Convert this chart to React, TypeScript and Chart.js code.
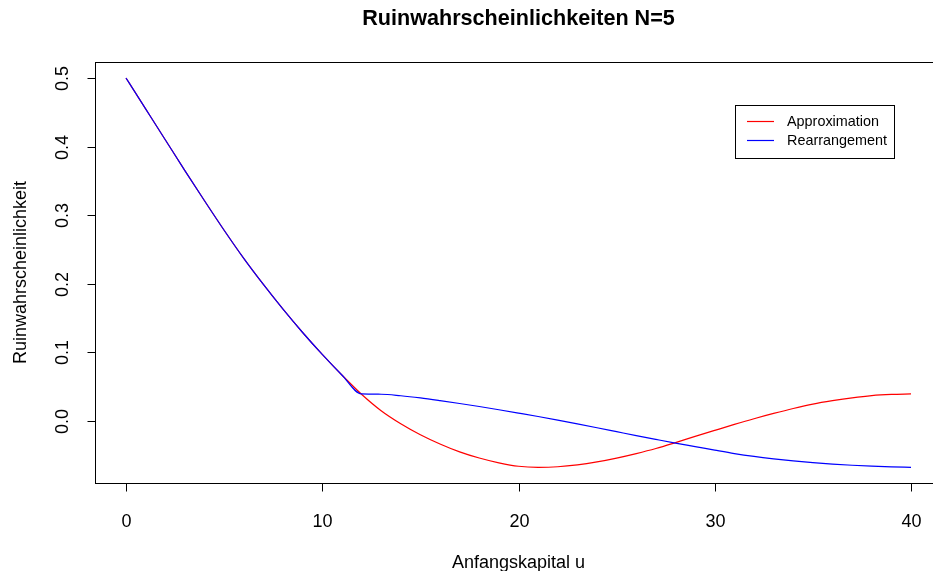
import React, { useEffect, useRef } from "react";
import { Chart, registerables } from "chart.js";

Chart.register(...registerables);

const TITLE = "Ruinwahrscheinlichkeiten N=5";
const X_LABEL = "Anfangskapital u";
const Y_LABEL = "Ruinwahrscheinlichkeit";
const SERIES_NAMES = ["Approximation", "Rearrangement"];

const U = [0, 1, 2, 3, 4, 5, 6, 7, 8, 9, 10, 11, 12, 13, 14, 15, 16, 17, 18, 19, 20,
  21, 22, 23, 24, 25, 26, 27, 28, 29, 30, 31, 32, 33, 34, 35, 36, 37, 38, 39, 40];

const APPROXIMATION = [0.5, 0.455, 0.41, 0.365, 0.321, 0.278, 0.237, 0.199, 0.163, 0.129, 0.097,
  0.067, 0.039, 0.015, -0.004, -0.02, -0.0335, -0.045, -0.054, -0.061, -0.066,
  -0.0675, -0.0667, -0.064, -0.0597, -0.0541, -0.0475, -0.0401, -0.0315, -0.0225, -0.0137,
  -0.005, 0.0033, 0.011, 0.0182, 0.0246, 0.0296, 0.0338, 0.037, 0.0387, 0.0394];

const REARRANGEMENT = [0.5, 0.455, 0.41, 0.365, 0.321, 0.278, 0.237, 0.199, 0.163, 0.129, 0.097,
  0.067, 0.0394, 0.039, 0.0368, 0.0336, 0.0297, 0.0255, 0.0211, 0.0164, 0.0115,
  0.0065, 0.0012, -0.0043, -0.0099, -0.0156, -0.0213, -0.0268, -0.0322, -0.0373, -0.0425,
  -0.0475, -0.0517, -0.0552, -0.0582, -0.0607, -0.0628, -0.0645, -0.0658, -0.0668, -0.0675];

const X_TICKS = [0, 10, 20, 30, 40];
const X_TICK_LABELS = ["0", "10", "20", "30", "40"];
const Y_TICKS = [0, 0.1, 0.2, 0.3, 0.4, 0.5];
const Y_TICK_LABELS = ["0.0", "0.1", "0.2", "0.3", "0.4", "0.5"];

const FONT = "'Liberation Sans', Arial, sans-serif";

const decorPlugin = {
  id: "rDecor",
  afterDraw(chart: any) {
    const ctx = chart.ctx as CanvasRenderingContext2D;
    const area = chart.chartArea;
    const xs = chart.scales.x;
    const ys = chart.scales.y;
    ctx.save();
    ctx.strokeStyle = "#000";
    ctx.fillStyle = "#000";
    ctx.lineWidth = 1;
    // box
    const l = Math.round(area.left) + 0.5;
    const t = Math.round(area.top) + 0.5;
    const r = Math.round(area.right) + 0.5;
    const b = Math.round(area.bottom) + 0.5;
    ctx.strokeRect(l, t, r - l, b - t);
    // x ticks
    ctx.font = `18px ${FONT}`;
    ctx.textAlign = "center";
    ctx.textBaseline = "alphabetic";
    X_TICKS.forEach((v, i) => {
      const px = Math.round(xs.getPixelForValue(v)) + 0.5;
      ctx.beginPath();
      ctx.moveTo(px, b);
      ctx.lineTo(px, b + 8);
      ctx.stroke();
      ctx.fillText(X_TICK_LABELS[i], px, 527);
    });
    // y ticks
    Y_TICKS.forEach((v, i) => {
      const py = Math.round(ys.getPixelForValue(v)) + 0.5;
      ctx.beginPath();
      ctx.moveTo(l, py);
      ctx.lineTo(l - 8, py);
      ctx.stroke();
      ctx.save();
      ctx.translate(68, py);
      ctx.rotate(-Math.PI / 2);
      ctx.textAlign = "center";
      ctx.textBaseline = "alphabetic";
      ctx.fillText(Y_TICK_LABELS[i], 0, 0);
      ctx.restore();
    });
    const cx = (area.left + area.right) / 2;
    const cy = (area.top + area.bottom) / 2;
    // axis labels
    ctx.textAlign = "center";
    ctx.fillText(X_LABEL, cx, 568);
    ctx.save();
    ctx.translate(26, cy);
    ctx.rotate(-Math.PI / 2);
    ctx.fillText(Y_LABEL, 0, 0);
    ctx.restore();
    // title
    ctx.font = `bold 21.6px ${FONT}`;
    ctx.fillText(TITLE, cx, 25);
    // legend
    ctx.strokeRect(735.5, 105.5, 159, 53);
    const colors = ["#FF0000", "#0000FF"];
    const rows = [121.5, 140.5];
    ctx.font = `14.4px ${FONT}`;
    ctx.textAlign = "left";
    ctx.textBaseline = "middle";
    SERIES_NAMES.forEach((name, i) => {
      ctx.strokeStyle = colors[i];
      ctx.lineWidth = 1.2;
      ctx.beginPath();
      ctx.moveTo(747, rows[i]);
      ctx.lineTo(774, rows[i]);
      ctx.stroke();
      ctx.fillStyle = "#000";
      ctx.fillText(name, 787, rows[i] + 0.5);
    });
    ctx.restore();
  },
};

export default function App() {
  const ref = useRef<HTMLCanvasElement | null>(null);
  useEffect(() => {
    document.body.style.margin = "0";
    const canvas = ref.current;
    if (!canvas) return;
    const chart = new Chart(canvas, {
      type: "line",
      data: {
        datasets: [
          {
            label: SERIES_NAMES[1],
            data: U.map((u, i) => ({ x: u, y: REARRANGEMENT[i] })),
            borderColor: "#0000FF",
            borderWidth: 1.2,
            pointRadius: 0,
            fill: false,
            cubicInterpolationMode: "monotone",
          },
          {
            label: SERIES_NAMES[0],
            data: U.map((u, i) => ({ x: u, y: APPROXIMATION[i] })),
            borderColor: "#FF0000",
            borderWidth: 1.2,
            pointRadius: 0,
            fill: false,
            cubicInterpolationMode: "monotone",
          },
        ],
      },
      options: {
        responsive: false,
        animation: false,
        layout: { padding: { left: 94.6, right: 960 - 942.4, top: 62, bottom: 571 - 483 } },
        plugins: { legend: { display: false }, title: { display: false }, tooltip: { enabled: false } },
        scales: {
          x: { type: "linear", min: -1.6, max: 41.6, display: false },
          y: { type: "linear", min: -0.0904, max: 0.5233, display: false },
        },
      },
      plugins: [decorPlugin],
    });
    return () => chart.destroy();
  }, []);
  return (
    <div style={{ position: "fixed", left: 0, top: 0, width: 933, height: 571, overflow: "hidden", background: "#fff" }}>
      <canvas ref={ref} width={960} height={571} style={{ display: "block" }} />
    </div>
  );
}
